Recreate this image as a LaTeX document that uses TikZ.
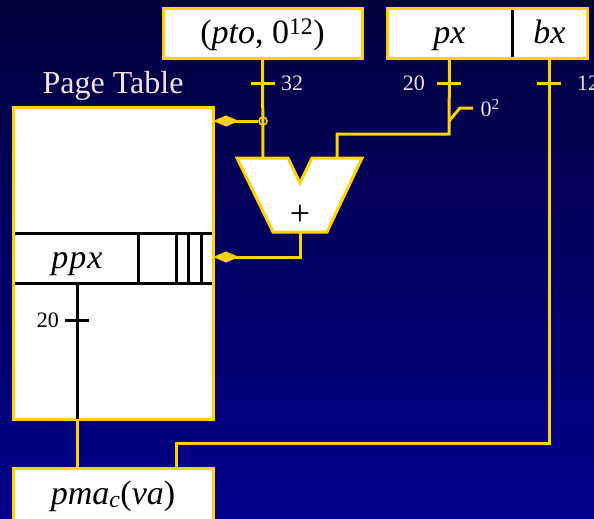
\documentclass[tikz,border=0pt]{standalone}
\usepackage{fontspec}
\setmainfont{Liberation Serif}
\usetikzlibrary{arrows.meta}
\definecolor{bus}{HTML}{FFD200}
\definecolor{bgtop}{HTML}{00003C}
\definecolor{bgbot}{HTML}{00008C}
\definecolor{pale}{HTML}{F4E0E6}
\tikzset{
  reg/.style={draw=bus, fill=white, line width=3pt, inner sep=0pt, outer sep=0pt,
    font=\fontsize{34}{38}\selectfont, text height=27pt, text depth=7pt},
  wire/.style={draw=bus, line width=3pt},
  bwire/.style={draw=black, line width=3pt},
  feed/.style={wire, -{Kite[length=26pt,width=11pt,inset=13pt]}},
  lbl/.style={font=\fontsize{22}{24}\selectfont, text=pale, inner sep=0pt},
  ttl/.style={font=\fontsize{32}{36}\selectfont, text=pale, inner sep=0pt},
}
\newcommand{\buswd}[2]{\draw[#1] (#2)+(-12,0) -- +(12,0);}

\begin{document}
\begin{tikzpicture}[x=1pt,y=-1pt]
  \useasboundingbox (0,0) rectangle (594,519);
  \shade[top color=bgtop, bottom color=bgbot] (0,0) rectangle (594,519);

  % registers on top
  \node[reg, minimum width=199pt, minimum height=50pt] (pto) at (262.5,34) {(\textit{pto}, 0\textsuperscript{12})};
  \node[reg, draw=none, minimum width=125pt, minimum height=50pt] (px) at (449.5,34) {\textit{px}};
  \node[reg, draw=none, minimum width=75pt, minimum height=50pt] (bx) at (549.5,34) {\textit{bx}};
  \draw[bwire] (bx.north west) -- (bx.south west);
  \draw[wire] (px.north west) rectangle (bx.south east);

  % page table
  \node[ttl] (ptname) at (113,86) {Page Table};
  \node[reg, minimum width=200pt, minimum height=312pt] (pt) at (113,263) {};
  \draw[bwire] (13,233) -- (213,233) (13,283) -- (213,283);
  \foreach \c in {138,176,188,201} \draw[bwire] (\c,233) -- (\c,283);
  \draw[wire] (pt.north west) rectangle (pt.south east);
  \node[reg, draw=none, fill=none] (ppx) at (77,258) {\textit{p\kern1pt p\kern1pt x}};

  % result
  \node[reg, minimum width=200pt, minimum height=52pt] (pma) at (113,494) {\textit{pma}\textsubscript{\textit{c}}(\textit{va})};

  % adder
  \coordinate (ina) at (263,158);
  \coordinate (inb) at (337,158);
  \coordinate (sum) at (300,232);
  \draw[wire, fill=white] (237,158) -- (288,158) -- (300,183) -- (312,158) -- (362,158)
    -- (327,232) -- (273,232) -- cycle;
  \node[reg, draw=none, fill=none, font=\fontsize{36}{40}\selectfont] (plus) at (300,215) {+};

  % wires
  \node[draw=bus, line width=1.6pt, circle, inner sep=0pt, minimum size=8pt] (jn) at (263,121) {};
  \draw[wire] (pto.south) -- (ina);
  \draw[feed] (jn.west) -- (jn -| pt.east);
  \coordinate (pxknee) at (449,134);
  \coordinate (zj) at (449,121);
  \draw[wire] (px.south) -- (pxknee) -| (inb);
  \draw[wire] (zj) -- ++(11,-13) -- ++(13,0) node[lbl, right=6pt] (zero) {0\textsuperscript{2}};
  \draw[feed] (sum) |- (pt.east |- 0,257);
  \coordinate (cb) at (176,443);
  \draw[wire] (bx.south) |- (cb) -- (cb |- pma.north);
  \coordinate (ppxb) at (77,283);
  \draw[bwire] (ppxb) -- (ppxb |- pt.south);
  \draw[wire] (ppxb |- pt.south) -- (ppxb |- pma.north);

  % bus widths
  \buswd{wire}{263,83}
  \buswd{wire}{449,83}
  \buswd{wire}{549,83}
  \buswd{bwire}{77,320}
  \node[lbl, anchor=west] (w32) at (281,83) {32};
  \node[lbl, anchor=east] (w20) at (425,83) {20};
  \node[lbl, anchor=west] (w12) at (577,83) {12};
  \node[lbl, anchor=east, text=black] (w20b) at (59,320) {20};
\end{tikzpicture}
\end{document}
